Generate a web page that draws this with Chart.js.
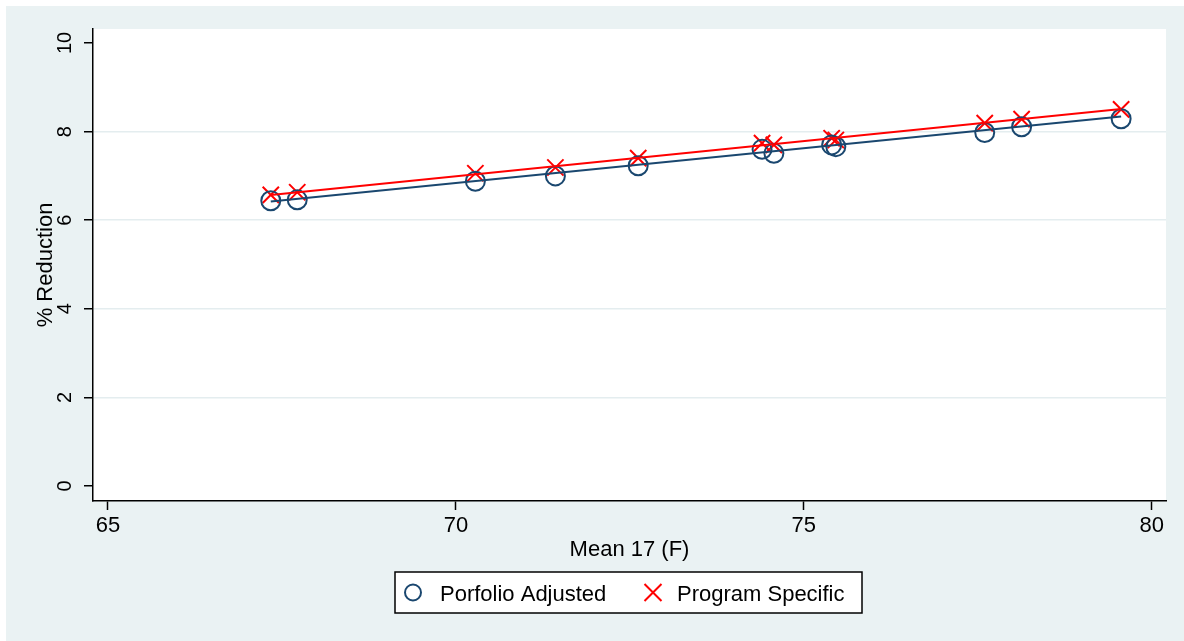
<!DOCTYPE html>
<html>
<head>
<meta charset="utf-8">
<script src="https://cdn.jsdelivr.net/npm/chart.js@4/dist/chart.umd.min.js"></script>
<style>
  html, body { margin: 0; padding: 0; background: #ffffff; }
  #wrap { width: 1184px; height: 641px; }
</style>
</head>
<body>
<div id="wrap"><canvas id="c" width="1184" height="641"></canvas></div>
<script>
// Mean temperature (F) for each program
const meanTemp = [67.34, 67.72, 70.28, 71.43, 72.62, 74.40, 74.57, 75.40, 75.46, 77.60, 78.13, 79.56];
// % reduction, portfolio-adjusted estimates
const portfolioAdjusted = [6.44, 6.46, 6.88, 7.00, 7.23, 7.60, 7.51, 7.70, 7.66, 7.98, 8.11, 8.29];
// % reduction, program-specific estimates
const programSpecific = [6.57, 6.63, 7.06, 7.19, 7.40, 7.74, 7.70, 7.85, 7.81, 8.19, 8.28, 8.50];
// fitted lines over the observed temperature range
const fitRange = [67.34, 79.56];
const portfolioFit = [6.42, 8.34];
const programFit = [6.57, 8.51];
// axis ticks
const xTicks = [65, 70, 75, 80];
const yTicks = [0, 2, 4, 6, 8, 10];
const legendLabels = ['Porfolio Adjusted', 'Program Specific'];

const NAVY = '#1A476F';
const RED = '#FF0000';
const BG = '#EAF2F3';
const GRID = '#E4EDEF';
const FONT = '"Liberation Sans", Arial, Helvetica, sans-serif';

const pts = (xs, ys) => xs.map((x, i) => ({ x: x, y: ys[i] }));

const chromePlugin = {
  id: 'chrome',
  beforeDraw(chart) {
    const { ctx, chartArea: a } = chart;
    ctx.save();
    ctx.fillStyle = '#ffffff';
    ctx.fillRect(0, 0, chart.width, chart.height);
    ctx.fillStyle = BG;
    ctx.fillRect(6, 6, chart.width - 6, chart.height - 6);
    ctx.fillStyle = '#ffffff';
    ctx.fillRect(a.left, a.top, a.right - a.left, a.bottom - a.top);
    ctx.restore();
  },
  afterDraw(chart) {
    const { ctx, chartArea: a } = chart;
    const ys = chart.scales.y;
    ctx.save();
    ctx.fillStyle = '#000';
    // rotated y tick labels
    ctx.font = '20px ' + FONT;
    ctx.textAlign = 'center';
    ctx.textBaseline = 'alphabetic';
    ys.ticks.forEach(t => {
      const py = ys.getPixelForValue(t.value);
      ctx.save();
      ctx.translate(71, py);
      ctx.rotate(-Math.PI / 2);
      ctx.fillText(String(t.value), 0, 0);
      ctx.restore();
    });
    // axis titles
    ctx.font = '22px ' + FONT;
    ctx.save();
    ctx.translate(52, (a.top + a.bottom) / 2);
    ctx.rotate(-Math.PI / 2);
    ctx.fillText('% Reduction', 0, 0);
    ctx.restore();
    ctx.fillText('Mean 17 (F)', (a.left + a.right) / 2, 556);

    // legend
    const bx = 395, by = 572, bw = 467, bh = 41;
    ctx.fillStyle = '#ffffff';
    ctx.fillRect(bx, by, bw, bh);
    ctx.strokeStyle = '#000';
    ctx.lineWidth = 1.5;
    ctx.strokeRect(bx, by, bw, bh);
    const cy = by + bh / 2;
    ctx.strokeStyle = NAVY;
    ctx.lineWidth = 2;
    ctx.beginPath();
    ctx.arc(413, cy, 8, 0, Math.PI * 2);
    ctx.stroke();
    ctx.strokeStyle = RED;
    ctx.beginPath();
    ctx.moveTo(653 - 8.5, cy - 8.5); ctx.lineTo(653 + 8.5, cy + 8.5);
    ctx.moveTo(653 - 8.5, cy + 8.5); ctx.lineTo(653 + 8.5, cy - 8.5);
    ctx.stroke();
    ctx.fillStyle = '#000';
    ctx.textAlign = 'left';
    ctx.fillText(legendLabels[0], 440, 601);
    ctx.fillText(legendLabels[1], 677, 601);
    ctx.restore();
  }
};

new Chart(document.getElementById('c'), {
  type: 'scatter',
  data: {
    datasets: [
      {
        type: 'line', data: pts(fitRange, portfolioFit), borderColor: NAVY, borderWidth: 2,
        pointRadius: 0, fill: false, tension: 0
      },
      {
        type: 'line', data: pts(fitRange, programFit), borderColor: RED, borderWidth: 2,
        pointRadius: 0, fill: false, tension: 0
      },
      {
        label: legendLabels[0], data: pts(meanTemp, portfolioAdjusted), pointStyle: 'circle',
        pointRadius: 9.5, borderColor: NAVY, borderWidth: 2, backgroundColor: 'rgba(0,0,0,0)'
      },
      {
        label: legendLabels[1], data: pts(meanTemp, programSpecific), pointStyle: 'crossRot',
        pointRadius: 11.5, borderColor: RED, borderWidth: 2, backgroundColor: RED
      }
    ]
  },
  options: {
    responsive: false,
    animation: false,
    events: [],
    layout: { padding: { left: 0, top: 29, right: 18, bottom: 0 } },
    plugins: { legend: { display: false }, tooltip: { enabled: false } },
    scales: {
      x: {
        type: 'linear',
        min: 64.785,
        max: 80.205,
        afterBuildTicks: s => { s.ticks = xTicks.map(v => ({ value: v })); },
        afterFit: s => { s.height = 140; },
        grid: { drawOnChartArea: false, tickLength: 9, tickColor: '#000', tickWidth: 1.5 },
        border: { display: true, color: '#000', width: 1.5 },
        ticks: { color: '#000', font: { family: FONT, size: 22 }, padding: 3, maxRotation: 0, minRotation: 0 }
      },
      y: {
        type: 'linear',
        min: -0.339,
        max: 10.316,
        afterBuildTicks: s => { s.ticks = yTicks.map(v => ({ value: v })); },
        afterFit: s => { s.width = 93; },
        grid: {
          drawOnChartArea: true, tickLength: 9, tickColor: '#000', tickWidth: 1.5, lineWidth: 1.5,
          color: c => (c.tick && c.tick.value > 0 && c.tick.value < 10) ? GRID : 'rgba(0,0,0,0)'
        },
        border: { display: true, color: '#000', width: 1.5 },
        ticks: { display: false }
      }
    }
  },
  plugins: [chromePlugin]
});
</script>
</body>
</html>
